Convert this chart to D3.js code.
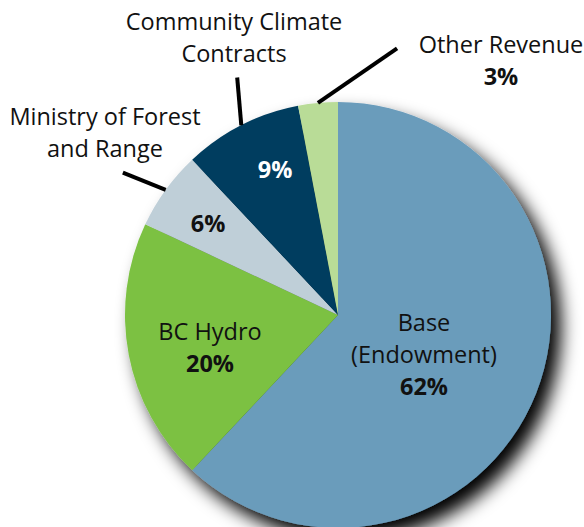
<!DOCTYPE html>
<html>
<head>
<meta charset="utf-8">
<script src="https://cdn.jsdelivr.net/npm/d3@7"></script>
<style>
  html, body { margin: 0; padding: 0; background: #fff; }
  svg { display: block; }
  text { font-family: "Open Sans", sans-serif; fill: #111; }
</style>
</head>
<body>
<div id="chart"></div>
<script>
(function() {
  // revenue sources, clockwise from 12 o'clock
  var categories = ['Base (Endowment)', 'BC Hydro', 'Ministry of Forest and Range', 'Community Climate Contracts', 'Other Revenue'];
  var values     = [62, 20, 6, 9, 3];
  var colors     = ['#6b9cbb', '#7bc143', '#bfcfd8', '#003d5e', '#b9dc97'];

  const WIDTH  = 584;
  const HEIGHT = 527;
  const CX = 338;
  const CY = 315;
  const R  = 213;
  const FONT = 23.5;

  var svg = d3.select('#chart').append('svg')
    .attr('width', WIDTH)
    .attr('height', HEIGHT);

  var defs = svg.append('defs');
  var f = defs.append('filter')
    .attr('id', 'shadow')
    .attr('x', '-20%').attr('y', '-20%')
    .attr('width', '150%').attr('height', '150%');
  f.append('feDropShadow')
    .attr('dx', 10)
    .attr('dy', 12)
    .attr('stdDeviation', 9)
    .attr('flood-color', '#000')
    .attr('flood-opacity', 1);

  var data = categories.map(function(c, i) {
    return { name: c, value: values[i], color: colors[i] };
  });

  var pie = d3.pie()
    .sort(null)
    .value(function(d) { return d.value; });

  var arcs = pie(data);

  var arc = d3.arc()
    .innerRadius(0)
    .outerRadius(R);

  var g = svg.append('g')
    .attr('transform', 'translate(' + CX + ',' + CY + ')');

  g.append('g')
    .attr('filter', 'url(#shadow)')
    .selectAll('path')
    .data(arcs)
    .enter().append('path')
    .attr('d', arc)
    .attr('fill', function(d) { return d.data.color; });

  // label layout: lines of text, placement relative to pie centre
  var labels = [
    { lines: ['Base', '(Endowment)', '62%'], x: 86, y: 16 },
    { lines: ['BC Hydro', '20%'], x: -128, y: 25 },
    { lines: ['6%'], x: -130, y: -83, fill: '#111' },
    { lines: ['9%'], x: -63, y: -137, fill: '#fff' },
    { lines: ['Other Revenue', '3%'], x: 163, y: -262 },
    { lines: ['Community Climate', 'Contracts'], x: -104, y: -285 },
    { lines: ['Ministry of Forest', 'and Range'], x: -233, y: -190 }
  ];

  var LINE_H = 32;

  labels.forEach(function(l) {
    var t = g.append('text')
      .attr('text-anchor', 'middle')
      .attr('font-size', FONT)
      .attr('x', l.x)
      .attr('y', l.y);
    l.lines.forEach(function(s, i) {
      var ts = t.append('tspan')
        .attr('x', l.x)
        .attr('y', l.y + i * LINE_H)
        .text(s);
      if (/%$/.test(s)) {
        ts.attr('font-weight', 'bold');
        if (l.fill) ts.style('fill', l.fill);
      }
    });
  });

  // leader lines: from rim at slice mid angle to the outside label
  var leaders = [
    { slice: 3, angle: 337 * Math.PI / 180, r: 258 },
    { slice: 2, angle: 303.5 * Math.PI / 180, r: 258 },
    { slice: 4, angle: 12.5 * Math.PI / 180, r: 273 }
  ];

  leaders.forEach(function(l) {
    var a = arcs[l.slice];
    var mid = (a.startAngle + a.endAngle) / 2;
    g.append('line')
      .attr('x1', Math.sin(mid) * R)
      .attr('y1', -Math.cos(mid) * R)
      .attr('x2', Math.sin(l.angle) * l.r)
      .attr('y2', -Math.cos(l.angle) * l.r)
      .attr('stroke', '#000')
      .attr('stroke-width', 4);
  });
})();
</script>
</body>
</html>
